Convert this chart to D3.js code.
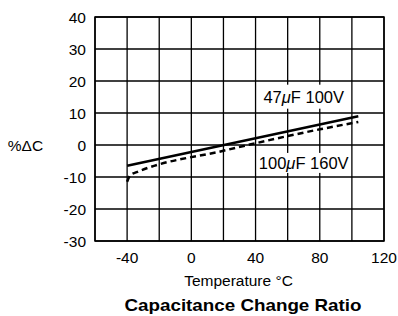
<!DOCTYPE html>
<html><head><meta charset="utf-8">
<script src="https://cdn.jsdelivr.net/npm/d3@7"></script>
<style>body{margin:0;background:#fff}svg{display:block;font-family:"Liberation Sans",Arial,sans-serif}</style>
</head><body><svg id="c" width="398" height="316"></svg>
<script>
const xTicks = [-40, 0, 40, 80, 120];
const yTicks = [-30, -20, -10, 0, 10, 20, 30, 40];
const xGrid = [-60, -40, -20, 0, 20, 40, 60, 80, 100, 120];
const solidTemp = [-40, 104];
const solidVal = [-6.5, 9.0];
const dashTemp = [-40, -38, -34, 20, 80, 104];
const dashVal = [-11.5, -9.4, -8.5, -1.8, 4.9, 7.2];
const labels = ["47μF 100V", "100μF 160V"];

const svg = d3.select("#c");
const x = d3.scaleLinear().domain([-60, 120]).range([95, 384]);
const y = d3.scaleLinear().domain([-30, 40]).range([241, 17]);

const g = svg.append("g");
g.selectAll(".vg").data(xGrid).join("line")
  .attr("x1", d => x(d)).attr("x2", d => x(d)).attr("y1", y(-30)).attr("y2", y(40))
  .attr("stroke", "#000").attr("stroke-width", 1.3);
g.selectAll(".hg").data(yTicks).join("line")
  .attr("x1", x(-60)).attr("x2", x(120)).attr("y1", d => y(d)).attr("y2", d => y(d))
  .attr("stroke", "#000").attr("stroke-width", 1.3);
g.append("rect").attr("x", x(-60)).attr("y", y(40)).attr("width", x(120) - x(-60)).attr("height", y(-30) - y(40))
  .attr("fill", "none").attr("stroke", "#000").attr("stroke-width", 1.5);

function label(txt, cx, cy, padY) {
  const t = svg.append("text").attr("x", cx).attr("y", cy).attr("text-anchor", "middle")
    .attr("dominant-baseline", "central").attr("font-size", 16.5);
  const parts = txt.split("μ");
  t.append("tspan").text(parts[0]);
  t.append("tspan").attr("font-style", "italic").text("μ");
  t.append("tspan").text(parts[1]);
  const bb = t.node().getBBox();
  svg.insert("rect", function(){ return t.node(); }).attr("x", bb.x - 2).attr("y", bb.y - padY)
    .attr("width", bb.width + 4).attr("height", bb.height + 2 * padY).attr("fill", "#fff");
}
label(labels[0], x(70), y(15.1), 3);
label(labels[1], x(70), y(-5.6), 1);

const line = d3.line().x(d => x(d[0])).y(d => y(d[1]));
svg.append("path").datum(solidTemp.map((t, i) => [t, solidVal[i]]))
  .attr("d", line).attr("fill", "none").attr("stroke", "#000").attr("stroke-width", 2.5);
svg.append("path").datum(dashTemp.map((t, i) => [t, dashVal[i]]))
  .attr("d", d3.line().curve(d3.curveMonotoneX).x(d => x(d[0])).y(d => y(d[1])))
  .attr("fill", "none").attr("stroke", "#000").attr("stroke-width", 2.5).attr("stroke-dasharray", "6,4");

svg.selectAll(".yt").data(yTicks).join("text")
  .attr("x", 86).attr("y", d => y(d)).attr("text-anchor", "end").attr("dominant-baseline", "central")
  .attr("font-size", 15.5).text(d => d);
svg.selectAll(".xt").data(xTicks).join("text")
  .attr("x", d => x(d)).attr("y", 257.5).attr("text-anchor", "middle").attr("dominant-baseline", "central")
  .attr("font-size", 15.5).text(d => d);
svg.append("text").attr("x", 25.5).attr("y", y(0)).attr("text-anchor", "middle").attr("dominant-baseline", "central")
  .attr("font-size", 15.5).text("%ΔC");
svg.append("text").attr("x", 238.5).attr("y", 280).attr("text-anchor", "middle").attr("dominant-baseline", "central")
  .attr("font-size", 15.5).text("Temperature °C");
svg.append("text").attr("x", 243).attr("y", 305.5).attr("text-anchor", "middle").attr("dominant-baseline", "central")
  .attr("font-size", 17).attr("font-weight", "bold")
  .attr("textLength", 237).attr("lengthAdjust", "spacingAndGlyphs").text("Capacitance Change Ratio");
</script></body></html>
